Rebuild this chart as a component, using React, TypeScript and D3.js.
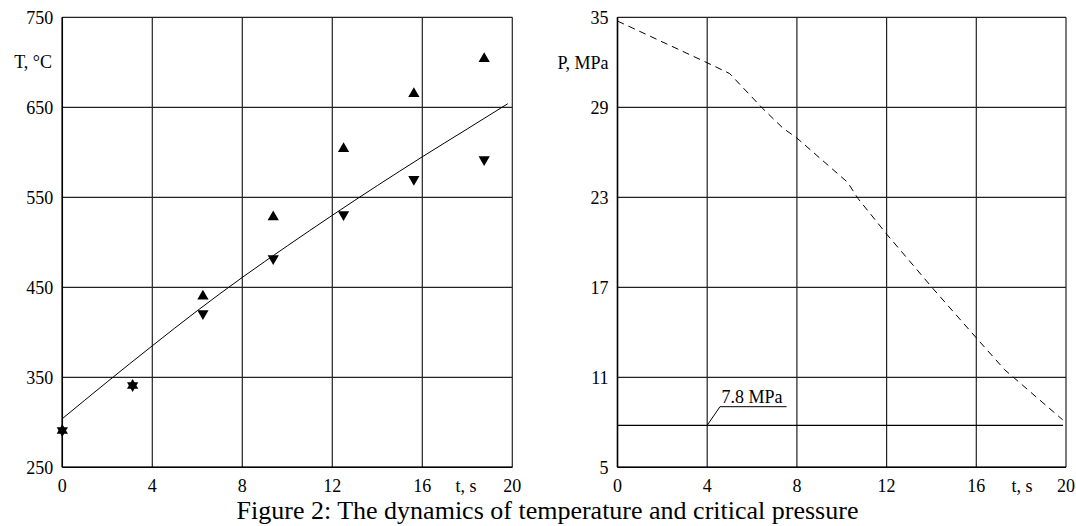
import * as d3 from 'd3';

// left panel: temperature
const tempTicksX = [0, 4, 8, 12, 16, 20];
const tempTicksY = [250, 350, 450, 550, 650, 750];
const sampleTimes = [0, 3.125, 6.25, 9.375, 12.5, 15.625, 18.75];
const tempMax = [291, 341, 440, 528, 604, 665, 704];
const tempMin = [291, 341, 421, 482, 531, 570, 592];
const fitTimes = [0, 2, 4, 6, 8, 10, 12, 14, 16, 18, 19.8];
const fitTemps = [304, 345, 385, 424, 461, 496, 530, 563, 595, 626, 654];

// right panel: critical pressure
const pressTicksX = [0, 4, 8, 12, 16, 20];
const pressTicksY = [5, 11, 17, 23, 29, 35];
const pressTimes = [0, 4, 5, 6.45, 7.37, 8, 10.26, 10.72, 12, 14.06, 16, 17.26, 19.85];
const pressValues = [34.75, 31.97, 31.25, 28.96, 27.62, 26.95, 24.0, 22.93, 20.55, 16.93, 13.63, 11.51, 8.17];
const critPressure = 7.8;
const critSpan = [0, 19.87];
const critLabel = '7.8 MPa';
const calloutT = [4, 4.57, 7.54];
const calloutP = [7.8, 9.04, 9.04];

const caption = 'Figure 2: The dynamics of temperature and critical pressure';

const FONT = '"Liberation Serif", "Times New Roman", serif';

const xT = d3.scaleLinear().domain([0, 20]).range([62.3, 512.3]);
const yT = d3.scaleLinear().domain([250, 750]).range([467.3, 17.3]);
const xP = d3.scaleLinear().domain([0, 20]).range([617.5, 1066]);
const yP = d3.scaleLinear().domain([5, 35]).range([467.3, 17.3]);

function Grid({ x, y, ticksX, ticksY }: any) {
  const [x0, x1] = x.range();
  const [y0, y1] = y.range();
  return (
    <g>
      {ticksX.map((t: number) => (
        <line key={'vx' + t} x1={x(t)} x2={x(t)} y1={y0} y2={y1} stroke="#222" strokeWidth={1.2} />
      ))}
      {ticksY.map((t: number) => (
        <line key={'hy' + t} x1={x0} x2={x1} y1={y(t)} y2={y(t)} stroke="#222" strokeWidth={1.2} />
      ))}
      <line x1={x0} x2={x0} y1={y0} y2={y1} stroke="#000" strokeWidth={1.5} />
      <line x1={x0} x2={x1} y1={y0} y2={y0} stroke="#000" strokeWidth={1.5} />
      {ticksX.map((t: number) => (
        <text key={'lx' + t} x={x(t)} y={492} textAnchor="middle" fontSize={18}>{t}</text>
      ))}
      {ticksY.map((t: number) => (
        <text key={'ly' + t} x={x0 - 9} y={y(t) + 7} textAnchor="end" fontSize={18}>{t}</text>
      ))}
    </g>
  );
}

export default function App() {
  const up = d3.symbol(d3.symbolTriangle, 55)()!;

  const fitLine = d3.line<number>()
    .x((_, i) => xT(fitTimes[i]))
    .y(d => yT(d))
    .curve(d3.curveMonotoneX);

  const pressLine = d3.line<number>()
    .x((_, i) => xP(pressTimes[i]))
    .y(d => yP(d));

  const callout = d3.line<number>()
    .x((_, i) => xP(calloutT[i]))
    .y(d => yP(d));

  return (
    <svg width={1076} height={526} style={{ position: 'absolute', left: 0, top: 0, background: '#fff' }} fontFamily={FONT}>
      <rect width={1076} height={526} fill="#fff" />

      {/* temperature panel */}
      <Grid x={xT} y={yT} ticksX={tempTicksX} ticksY={tempTicksY} />
      <path d={fitLine(fitTemps)!} fill="none" stroke="#000" strokeWidth={1} />
      {tempMax.map((v, i) => (
        <path key={'up' + i} d={up} transform={`translate(${xT(sampleTimes[i])},${yT(v)})`} fill="#000" />
      ))}
      {tempMin.map((v, i) => (
        <path key={'dn' + i} d={up} transform={`translate(${xT(sampleTimes[i])},${yT(v)}) rotate(180)`} fill="#000" />
      ))}
      <text x={52} y={68} textAnchor="end" fontSize={18}>T, °C</text>
      <text x={466} y={492} textAnchor="middle" fontSize={18}>t, s</text>

      {/* pressure panel */}
      <Grid x={xP} y={yP} ticksX={pressTicksX} ticksY={pressTicksY} />
      <path d={pressLine(pressValues)!} fill="none" stroke="#000" strokeWidth={1} strokeDasharray="7,5" />
      <line x1={xP(critSpan[0])} x2={xP(critSpan[1])} y1={yP(critPressure)} y2={yP(critPressure)} stroke="#000" strokeWidth={1.3} />
      <path d={callout(calloutP)!} fill="none" stroke="#000" strokeWidth={1} />
      <text x={xP(calloutT[1]) + 1.5} y={yP(calloutP[1]) - 4} fontSize={18}>{critLabel}</text>
      <text x={608.5} y={69} textAnchor="end" fontSize={18}>P, MPa</text>
      <text x={1022} y={492} textAnchor="middle" fontSize={18}>t, s</text>

      <text x={547.5} y={519} textAnchor="middle" fontSize={26}>{caption}</text>
    </svg>
  );
}
